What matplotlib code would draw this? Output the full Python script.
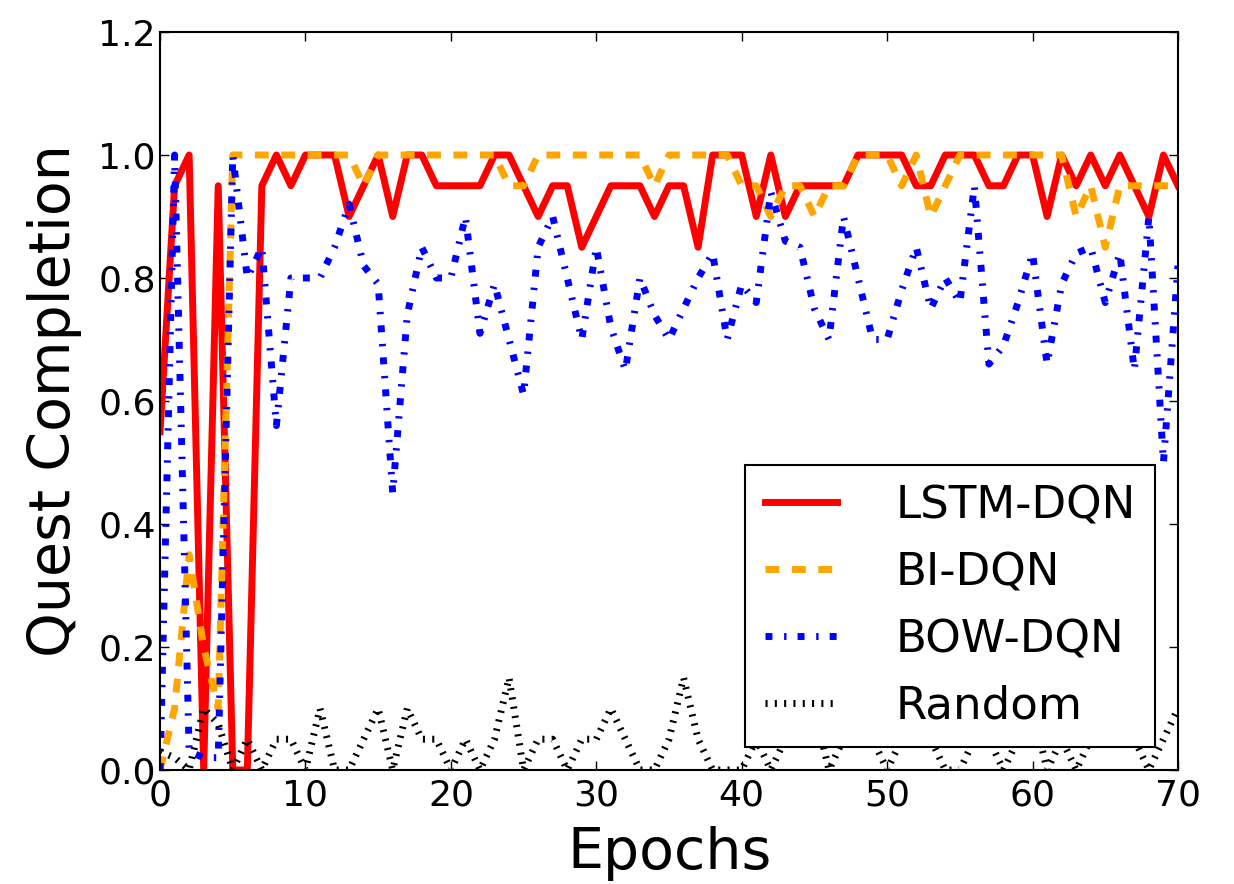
import matplotlib
matplotlib.use('Agg')
import matplotlib.pyplot as plt
import numpy as np

plt.rcParams['font.family'] = ['DejaVu Sans']
plt.rcParams['lines.scale_dashes'] = False

# quest completion per epoch
epochs = np.arange(0, 71)

lstm_dqn = [0.55, 0.95, 1.0, 0.0, 0.95, 0.0, 0.0, 0.95, 1.0, 0.95,
            1.0, 1.0, 1.0, 0.9, 0.95, 1.0, 0.9, 1.0, 1.0, 0.95,
            0.95, 0.95, 0.95, 1.0, 1.0, 0.95, 0.9, 0.95, 0.95, 0.85,
            0.9, 0.95, 0.95, 0.95, 0.9, 0.95, 0.95, 0.85, 1.0, 1.0,
            1.0, 0.9, 1.0, 0.9, 0.95, 0.95, 0.95, 0.95, 1.0, 1.0,
            1.0, 1.0, 0.95, 0.95, 1.0, 1.0, 1.0, 0.95, 0.95, 1.0,
            1.0, 0.9, 1.0, 0.95, 1.0, 0.95, 1.0, 0.95, 0.9, 1.0,
            0.95]

bi_dqn = [0.0, 0.1, 0.35, 0.2, 0.1, 1.0, 1.0, 1.0, 1.0, 1.0,
          1.0, 1.0, 1.0, 1.0, 0.95, 1.0, 1.0, 1.0, 1.0, 1.0,
          1.0, 1.0, 1.0, 1.0, 0.95, 0.95, 1.0, 1.0, 1.0, 1.0,
          1.0, 1.0, 1.0, 1.0, 0.95, 1.0, 1.0, 1.0, 1.0, 1.0,
          0.95, 0.95, 0.9, 0.95, 0.95, 0.9, 0.95, 0.95, 1.0, 1.0,
          1.0, 0.95, 1.0, 0.9, 0.95, 1.0, 1.0, 1.0, 1.0, 1.0,
          1.0, 1.0, 1.0, 0.9, 0.95, 0.85, 0.95, 0.95, 0.95, 0.95,
          0.95]

bow_dqn = [0.0, 1.0, 0.03, 0.02, 0.02, 1.0, 0.8, 0.85, 0.56, 0.8,
           0.8, 0.8, 0.85, 0.92, 0.82, 0.79, 0.45, 0.74, 0.85, 0.8,
           0.8, 0.9, 0.71, 0.79, 0.7, 0.61, 0.85, 0.9, 0.8, 0.7,
           0.85, 0.72, 0.65, 0.8, 0.74, 0.7, 0.75, 0.8, 0.84, 0.7,
           0.79, 0.76, 0.94, 0.86, 0.85, 0.75, 0.7, 0.9, 0.8, 0.7,
           0.7, 0.78, 0.85, 0.75, 0.8, 0.76, 0.95, 0.66, 0.69, 0.76,
           0.84, 0.66, 0.79, 0.84, 0.85, 0.76, 0.84, 0.65, 0.9, 0.5,
           0.82]

random_agent = [0.03, 0.02, 0.0, 0.1, 0.075, 0.0, 0.05, 0.0, 0.05, 0.05,
                0.0, 0.1, 0.0, 0.0, 0.05, 0.1, 0.0, 0.1, 0.05, 0.05,
                0.0, 0.05, 0.0, 0.05, 0.15, 0.0, 0.05, 0.05, 0.0, 0.05,
                0.05, 0.1, 0.05, 0.0, 0.0, 0.05, 0.15, 0.05, 0.0, 0.0,
                0.0, 0.05, 0.0, 0.05, 0.05, 0.1, 0.0, 0.05, 0.1, 0.05,
                0.0, 0.05, 0.05, 0.05, 0.0, 0.0, 0.05, 0.05, 0.0, 0.05,
                0.1, 0.0, 0.05, 0.0, 0.05, 0.1, 0.05, 0.05, 0.0, 0.05,
                0.1]

fig = plt.figure(figsize=(12.34, 8.84), dpi=100)
ax = fig.add_axes([0.1297, 0.1290, 0.8249, 0.8348])

ax.plot(epochs, lstm_dqn, color='red', lw=5, label='LSTM-DQN')
ax.plot(epochs, bi_dqn, color='orange', lw=5, dashes=(10, 9), label='BI-DQN')
ax.plot(epochs, bow_dqn, color='blue', lw=5, dashes=(5, 8.4, 1.7, 8.0), label='BOW-DQN')
ax.plot(epochs, random_agent, color='black', lw=5, dashes=(1.5, 5.2), label='Random')

ax.set_xlim(0, 70)
ax.set_ylim(0, 1.2)
ax.set_xticks(np.arange(0, 71, 10))
ax.set_yticks(np.arange(0, 1.21, 0.2))
ax.set_yticklabels(['%.1f' % v for v in np.arange(0, 1.21, 0.2)])

ax.tick_params(direction='in', top=True, right=True, length=6.5, width=1,
               labelsize=26)
ax.tick_params(axis='x', pad=6)
ax.tick_params(axis='y', pad=3)
for sp in ax.spines.values():
    sp.set_linewidth(1.5)

ax.set_xlabel('Epochs', fontsize=41, labelpad=10)
ax.set_ylabel('Quest Completion', fontsize=41, labelpad=12)

leg = ax.legend(loc='lower right', fontsize=32.5, fancybox=False, framealpha=1,
                edgecolor='black', borderpad=0.43, handlelength=1.6,
                handletextpad=1.3, labelspacing=0.53)
leg.get_frame().set_linewidth(1.5)

fig.savefig('out.png', dpi=100)
